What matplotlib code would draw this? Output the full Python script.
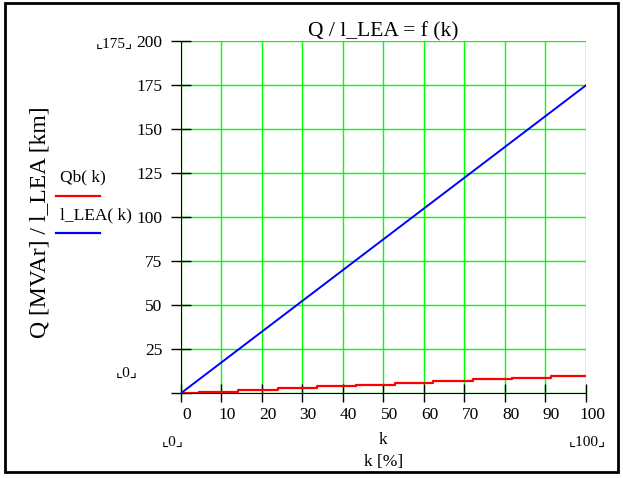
import matplotlib
matplotlib.use("Agg")
from matplotlib import pyplot as plt
from matplotlib.patches import Rectangle
from matplotlib.transforms import ScaledTranslation

# data
k_line = [0, 100]
l_lea = [0, 175]

# Qb(k) is a staircase: k where it steps up, and the level it steps to
k_steps = [0, 4.5, 14.2, 23.9, 33.6, 43.3, 52.8, 62.3, 72.0, 81.7, 91.3, 100]
qb_vals = [0, 1, 2, 3, 4, 5, 6, 7, 8, 9, 10, 10]

x_ticks = [0, 10, 20, 30, 40, 50, 60, 70, 80, 90, 100]
y_ticks = [0, 25, 50, 75, 100, 125, 150, 175, 200]
y_ticklabels = ["", "25", "50", "75", "100", "125", "150", "175", "200"]

fams = ["Liberation Serif", "DejaVu Serif", "DejaVu Sans"]
plt.rcParams["font.family"] = fams

fig = plt.figure(figsize=(6.23, 4.78), dpi=100)
ax = fig.add_axes([0.290, 0.177, 0.6506, 0.7366])

ax.plot(k_steps, qb_vals, color="#ff0000", lw=1.6, drawstyle="steps-post", zorder=3)
ax.plot(k_line, l_lea, color="#0000ff", lw=1.4, zorder=3)

ax.set_xlim(0, 100)
ax.set_ylim(0, 200)
ax.set_xticks(x_ticks)
ax.set_yticks(y_ticks)
ax.set_yticklabels(y_ticklabels)
ax.grid(True, color="#00ff00", lw=1.0)
ax.set_axisbelow(True)
for s in ["top", "right"]:
    ax.spines[s].set_visible(False)
ax.spines["left"].set_color("black")
ax.spines["bottom"].set_color("black")
ax.tick_params(axis="x", direction="inout", length=13, width=1, labelsize=12.5, pad=3)
ax.tick_params(axis="y", direction="inout", length=14, width=1, labelsize=12.5, pad=6)

# Mathcad draws the x numbers a little to the right of their ticks
shift = ScaledTranslation(6 / 100, 0, fig.dpi_scale_trans)
for lab in ax.get_xticklabels():
    lab.set_transform(lab.get_transform() + shift)

# Mathcad style labels around the plot
ax.set_title("Q / l_LEA = f (k)", fontsize=15.5, pad=3)
fig.text(0.064, 0.535, "Q [MVAr] / l_LEA [km]", rotation=90, fontsize=17,
         ha="center", va="center")
fig.text(0.615, 0.079, "k", fontsize=12.5, ha="center", va="center")
fig.text(0.615, 0.034, "k [%]", fontsize=12.5, ha="center", va="center")
fig.text(0.277, 0.075, "\u231e0\u231f", fontsize=11, ha="center", va="center")
fig.text(0.943, 0.075, "\u231e100\u231f", fontsize=11, ha="center", va="center")
fig.text(0.184, 0.908, "\u231e175\u231f", fontsize=11, ha="center", va="center")
fig.text(0.204, 0.219, "\u231e0\u231f", fontsize=11, ha="center", va="center")

# legend on the left, as Mathcad places it
fig.text(0.097, 0.628, "Qb( k)", fontsize=12.5, ha="left", va="center")
fig.add_artist(plt.Line2D([0.090, 0.160], [0.590, 0.590], color="#ff0000", lw=1.6))
fig.text(0.097, 0.550, "l_LEA( k)", fontsize=12.5, ha="left", va="center")
fig.add_artist(plt.Line2D([0.090, 0.160], [0.512, 0.512], color="#0000ff", lw=1.6))

# outer frame
fig.add_artist(Rectangle((0.008, 0.012), 0.984, 0.982, transform=fig.transFigure,
                         fill=False, edgecolor="black", lw=2))

fig.savefig("out.png", dpi=100)
